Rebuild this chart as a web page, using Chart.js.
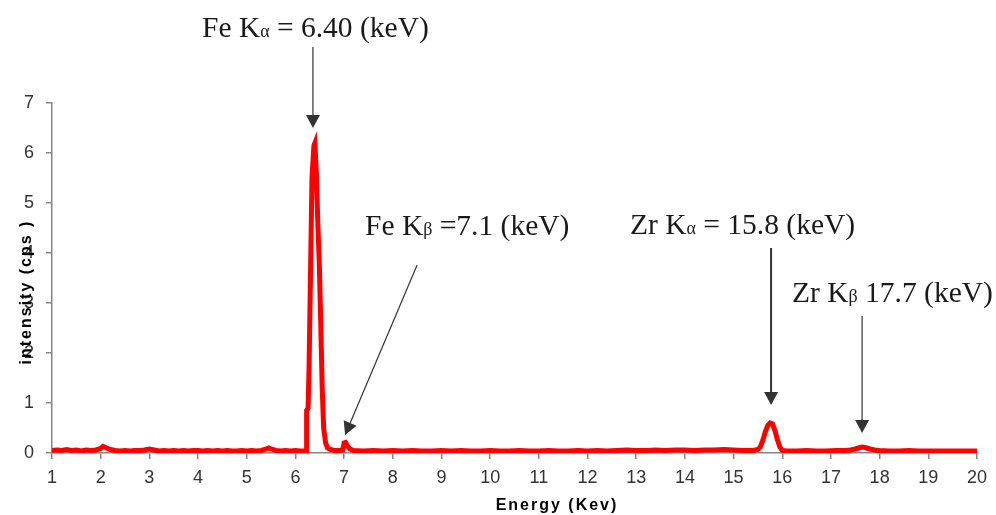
<!DOCTYPE html>
<html>
<head>
<meta charset="utf-8">
<script src="https://cdn.jsdelivr.net/npm/chart.js@4.4.1/dist/chart.umd.min.js"></script>
<style>
    html, body { margin: 0; padding: 0; background: #ffffff; }
    #spectrumChart { display: block; }
</style>
</head>
<body>
<canvas id="spectrumChart" width="996" height="515"></canvas>
<script>
// Energy axis (keV)
const energyKeV = [
    1.0, 1.1, 1.2, 1.3, 1.4, 1.5, 1.6, 1.7, 1.8, 1.9,
    2.0, 2.05, 2.1, 2.2, 2.3, 2.4, 2.5, 2.6, 2.7, 2.8, 2.9,
    3.0, 3.1, 3.2, 3.3, 3.4, 3.5, 3.6, 3.7, 3.8, 3.9,
    4.0, 4.1, 4.2, 4.3, 4.4, 4.5, 4.6, 4.7, 4.8, 4.9,
    5.0, 5.1, 5.2, 5.3, 5.4, 5.45, 5.5, 5.6, 5.7, 5.8, 5.9,
    6.0, 6.1, 6.2, 6.22, 6.23, 6.26, 6.28, 6.31, 6.34, 6.38, 6.40,
    6.43, 6.46, 6.49, 6.52, 6.55, 6.58, 6.62, 6.66, 6.72, 6.8, 6.9,
    6.97, 7.0, 7.03, 7.07, 7.12, 7.2, 7.4, 7.6, 7.8,
    8.0, 8.2, 8.4, 8.6, 8.8, 9.0, 9.2, 9.4, 9.6, 9.8,
    10.0, 10.2, 10.4, 10.6, 10.8, 11.0, 11.2, 11.4, 11.6, 11.8,
    12.0, 12.2, 12.4, 12.6, 12.8, 13.0, 13.2, 13.4, 13.6, 13.8,
    14.0, 14.2, 14.4, 14.6, 14.8, 15.0, 15.2, 15.4,
    15.5, 15.55, 15.6, 15.65, 15.7, 15.75, 15.8, 15.85, 15.9, 15.95, 16.0,
    16.1, 16.3, 16.5, 16.7, 16.9, 17.1, 17.3, 17.4, 17.5, 17.6, 17.65,
    17.7, 17.8, 17.9, 18.0, 18.2, 18.4, 18.6, 18.8, 19.0, 19.2, 19.4,
    19.6, 19.8, 20.0
];

// Intensity (cps) at each energy
const intensityCps = [
    0.05, 0.06, 0.05, 0.07, 0.05, 0.06, 0.04, 0.06, 0.05, 0.06,
    0.09, 0.13, 0.11, 0.07, 0.05, 0.04, 0.05, 0.04, 0.05, 0.05, 0.06,
    0.08, 0.06, 0.04, 0.05, 0.04, 0.05, 0.04, 0.05, 0.04, 0.05,
    0.05, 0.04, 0.05, 0.04, 0.05, 0.04, 0.05, 0.04, 0.04, 0.05,
    0.04, 0.05, 0.04, 0.05, 0.08, 0.10, 0.08, 0.05, 0.04, 0.05, 0.04,
    0.05, 0.04, 0.04, 0.05, 0.85, 0.90, 1.70, 3.60, 5.50, 6.15, 6.20,
    5.60, 4.60, 3.80, 2.60, 1.30, 0.50, 0.20, 0.10, 0.07, 0.05, 0.05,
    0.06, 0.20, 0.21, 0.14, 0.08, 0.05, 0.04, 0.05, 0.04,
    0.05, 0.04, 0.05, 0.04, 0.04, 0.05, 0.04, 0.05, 0.04, 0.04,
    0.05, 0.04, 0.04, 0.05, 0.04, 0.04, 0.05, 0.04, 0.04, 0.05,
    0.04, 0.05, 0.04, 0.05, 0.06, 0.05, 0.05, 0.06, 0.05, 0.06,
    0.06, 0.05, 0.06, 0.06, 0.07, 0.06, 0.05, 0.05,
    0.07, 0.12, 0.25, 0.42, 0.55, 0.60, 0.58, 0.45, 0.27, 0.12, 0.05,
    0.04, 0.04, 0.05, 0.04, 0.04, 0.05, 0.05, 0.06, 0.08, 0.11, 0.12,
    0.11, 0.08, 0.06, 0.05, 0.04, 0.04, 0.05, 0.04, 0.04, 0.04, 0.04,
    0.04, 0.04, 0.04
];

const xTitle = 'Energy (Kev)';
const yTitle = 'intensity (cps )';

// peak labels: text pieces (main, subscript, rest) + arrow in data units
const peakNotes = [
    { name: 'Fe K', sub: 'α', rest: ' = 6.40 (keV)', textX: 202, textY: 37,
      from: [6.36, 8.12], to: [6.36, 6.5], lineW: 1.2 },
    { name: 'Fe K', sub: 'β', rest: ' =7.1 (keV)', textX: 365, textY: 235,
      from: [8.50, 3.76], to: [7.02, 0.36], lineW: 1.2 },
    { name: 'Zr K', sub: 'α', rest: ' = 15.8 (keV)', textX: 630, textY: 234,
      from: [15.77, 4.1], to: [15.77, 0.96], lineW: 2 },
    { name: 'Zr K', sub: 'β', rest: ' 17.7 (keV)', textX: 792, textY: 302,
      from: [17.64, 2.74], to: [17.64, 0.4], lineW: 1.2 }
];

const SANS = '"Liberation Sans", Arial, sans-serif';
const SERIF = '"Liberation Serif", "Times New Roman", serif';

function drawArrow(ctx, x1, y1, x2, y2, lineW) {
    const ang = Math.atan2(y2 - y1, x2 - x1);
    const headLen = 13, headW = 7;
    const bx = x2 - headLen * Math.cos(ang);
    const by = y2 - headLen * Math.sin(ang);
    ctx.strokeStyle = '#333333';
    ctx.fillStyle = '#333333';
    ctx.lineWidth = lineW;
    ctx.beginPath();
    ctx.moveTo(x1, y1);
    ctx.lineTo(bx, by);
    ctx.stroke();
    ctx.beginPath();
    ctx.moveTo(x2, y2);
    ctx.lineTo(bx + headW * Math.sin(ang), by - headW * Math.cos(ang));
    ctx.lineTo(bx - headW * Math.sin(ang), by + headW * Math.cos(ang));
    ctx.closePath();
    ctx.fill();
}

const notesPlugin = {
    id: 'notes',
    afterDatasetsDraw(chart) {
        const ctx = chart.ctx;
        const xs = chart.scales.x, ys = chart.scales.y;
        ctx.save();
        peakNotes.forEach(n => {
            drawArrow(ctx,
                xs.getPixelForValue(n.from[0]), ys.getPixelForValue(n.from[1]),
                xs.getPixelForValue(n.to[0]), ys.getPixelForValue(n.to[1]), n.lineW);
            ctx.fillStyle = '#1a1a1a';
            ctx.textBaseline = 'alphabetic';
            ctx.textAlign = 'left';
            let x = n.textX;
            ctx.font = '29.5px ' + SERIF;
            ctx.fillText(n.name, x, n.textY);
            x += ctx.measureText(n.name).width;
            ctx.font = '18px ' + SERIF;
            ctx.fillText(n.sub, x, n.textY);
            x += ctx.measureText(n.sub).width;
            ctx.font = '29.5px ' + SERIF;
            ctx.fillText(n.rest, x, n.textY);
        });

        // axis titles
        ctx.fillStyle = '#000000';
        ctx.font = 'bold 16px ' + SANS;
        if ('letterSpacing' in ctx) ctx.letterSpacing = '2px';
        ctx.textAlign = 'center';
        ctx.textBaseline = 'alphabetic';
        ctx.fillText(xTitle, 557, 510);
        ctx.translate(31, 292);
        ctx.rotate(-Math.PI / 2);
        ctx.fillText(yTitle, 0, 0);
        ctx.restore();
    }
};

const chart = new Chart(document.getElementById('spectrumChart'), {
    type: 'line',
    data: {
        datasets: [{
            data: energyKeV.map((e, i) => ({ x: e, y: intensityCps[i] })),
            borderColor: '#ff0000',
            borderWidth: 5,
            pointRadius: 2.2,
            pointStyle: 'rect',
            pointBackgroundColor: '#ff0000',
            pointBorderWidth: 0,
            tension: 0
        }]
    },
    options: {
        responsive: false,
        animation: false,
        devicePixelRatio: 1,
        layout: { padding: { top: 103, right: 19, left: 0, bottom: 0 } },
        plugins: {
            legend: { display: false },
            tooltip: { enabled: false }
        },
        scales: {
            x: {
                type: 'linear',
                min: 1,
                max: 20,
                afterFit: s => { s.height = 62; },
                ticks: {
                    stepSize: 1,
                    padding: 8,
                    color: '#333333',
                    font: { family: SANS, size: 18 }
                },
                grid: { drawOnChartArea: false, drawTicks: true, tickLength: 6, color: '#868686', lineWidth: 1.5 },
                border: { color: '#868686', width: 1.5 }
            },
            y: {
                min: 0,
                max: 7,
                afterFit: s => { s.width = 52; },
                ticks: {
                    stepSize: 1,
                    padding: 12,
                    color: '#333333',
                    font: { family: SANS, size: 18 }
                },
                grid: { drawOnChartArea: false, drawTicks: true, tickLength: 6, color: '#868686', lineWidth: 1.5 },
                border: { color: '#868686', width: 1.5 }
            }
        }
    },
    plugins: [notesPlugin]
});
</script>
</body>
</html>
